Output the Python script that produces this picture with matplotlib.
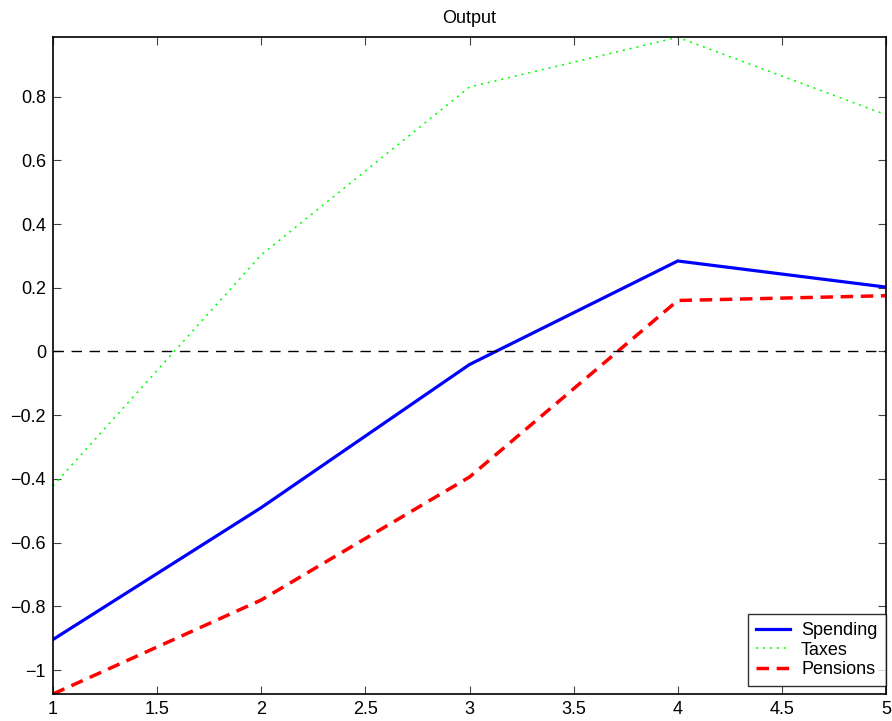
import matplotlib
matplotlib.use("Agg")
import matplotlib.pyplot as plt

plt.rcParams['font.family'] = ['Liberation Sans', 'DejaVu Sans']
plt.rcParams['lines.scale_dashes'] = False
plt.rcParams['axes.unicode_minus'] = True

periods = [1, 2, 3, 4, 5]
spending = [-0.904, -0.49, -0.041, 0.284, 0.202]
taxes = [-0.422, 0.303, 0.830, 0.986, 0.743]
pensions = [-1.075, -0.78, -0.394, 0.160, 0.175]
xticks = [1, 1.5, 2, 2.5, 3, 3.5, 4, 4.5, 5]
xticklabels = ['1', '1.5', '2', '2.5', '3', '3.5', '4', '4.5', '5']
yticks = [-1, -0.8, -0.6, -0.4, -0.2, 0, 0.2, 0.4, 0.6, 0.8]
yticklabels = ['\u22121', '\u22120.8', '\u22120.6', '\u22120.4', '\u22120.2', '0', '0.2', '0.4', '0.6', '0.8']

fig = plt.figure(figsize=(8.92, 7.21), dpi=100)
ax = fig.add_axes([53/892, 1 - 694/721, (886 - 53)/892, (694 - 37.3)/721])

ax.plot(periods, spending, color=(0, 0, 1), lw=2.3, solid_joinstyle='miter', label='Spending')
ax.plot(periods, taxes, color=(0, 1, 0), lw=1.1, linestyle=(0, (1.5, 3.5)), label='Taxes')
ax.plot(periods, pensions, color=(1, 0, 0), lw=2.5, linestyle=(0, (9, 5.5)), label='Pensions')
ax.axhline(0, color='black', lw=1.0, linestyle=(0, (7.5, 5.5)))

ax.set_xlim(min(periods), max(periods))
ax.set_ylim(min(pensions), max(taxes))
ax.set_xticks(xticks)
ax.set_xticklabels(xticklabels)
ax.set_yticks(yticks)
ax.set_yticklabels(yticklabels)
ax.tick_params(direction='in', length=6, width=0.8, labelsize=13, top=True, right=True,
               color='#444444', pad=5)
for s in ax.spines.values():
    s.set_linewidth(1.2)
    s.set_color('black')

ax.set_title('Output', fontsize=13, pad=10)

leg = ax.legend(loc='lower right', bbox_to_anchor=(0.9995, 8 / 656.7), fontsize=13,
                frameon=True, fancybox=False, edgecolor='black',
                handlelength=1.9, borderaxespad=0.0, labelspacing=0.13,
                borderpad=0.45, handletextpad=0.6)
leg.get_frame().set_linewidth(1.0)

fig.savefig('out.png', dpi=100)
